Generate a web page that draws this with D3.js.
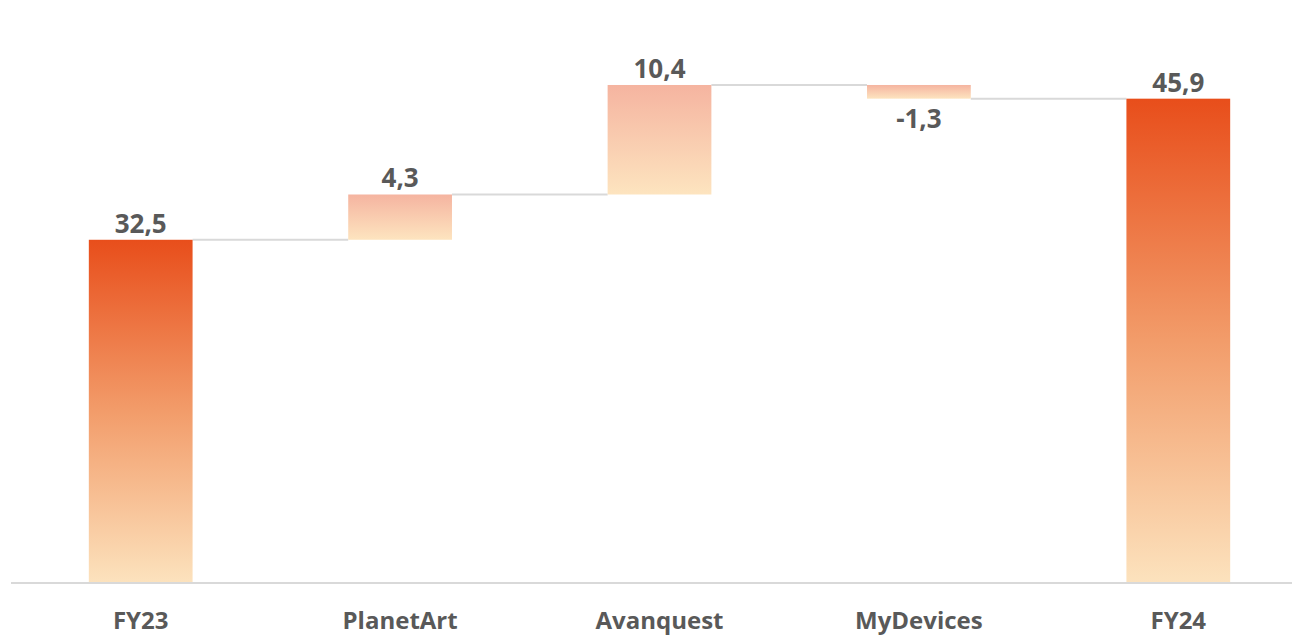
<!DOCTYPE html>
<html>
<head>
<meta charset="utf-8">
<script src="https://cdn.jsdelivr.net/npm/d3@7"></script>
<style>
  html, body { margin: 0; padding: 0; background: #ffffff; }
  svg { display: block; }
  text { font-family: "Open Sans", "Noto Sans", sans-serif; font-weight: 700; fill: #595959; }
</style>
</head>
<body>
<svg id="chart" width="1292" height="636"></svg>
<script>
const categories = ["FY23", "PlanetArt", "Avanquest", "MyDevices", "FY24"];
const values = [32.5, 4.3, 10.4, -1.3, 45.9];
const isTotal = [true, false, false, false, true];
const valueLabels = ["32,5", "4,3", "10,4", "-1,3", "45,9"];

const W = 1292, H = 636;
const svg = d3.select("#chart");

// compute waterfall segments
let running = 0;
const bars = categories.map((c, i) => {
  let start, end;
  if (isTotal[i]) { start = 0; end = values[i]; running = values[i]; }
  else { start = running; end = running + values[i]; running = end; }
  return { cat: c, start, end, value: values[i], total: isTotal[i], label: valueLabels[i] };
});

const x = d3.scaleBand().domain(categories).range([11, 1308]).paddingInner(0.6).paddingOuter(0.3);
const y = d3.scaleLinear().domain([0, 50]).range([582, 55.5]);

// gradients
const defs = svg.append("defs");
const gTot = defs.append("linearGradient").attr("id", "gTotal").attr("x1", 0).attr("y1", 0).attr("x2", 0).attr("y2", 1);
gTot.append("stop").attr("offset", "0%").attr("stop-color", "#E84E1B");
gTot.append("stop").attr("offset", "50%").attr("stop-color", "#F29C6A");
gTot.append("stop").attr("offset", "100%").attr("stop-color", "#FCE2BD");
const gDel = defs.append("linearGradient").attr("id", "gDelta").attr("x1", 0).attr("y1", 0).attr("x2", 0).attr("y2", 1);
gDel.append("stop").attr("offset", "0%").attr("stop-color", "#F5B4A0");
gDel.append("stop").attr("offset", "100%").attr("stop-color", "#FDE4BF");

// axis baseline
svg.append("line")
  .attr("x1", 11).attr("x2", W)
  .attr("y1", y(0) + 1).attr("y2", y(0) + 1)
  .attr("stroke", "#d9d9d9").attr("stroke-width", 2);

// connectors
for (let i = 0; i < bars.length - 1; i++) {
  const lvl = bars[i].end;
  svg.append("line")
    .attr("x1", x(bars[i].cat) + x.bandwidth())
    .attr("x2", x(bars[i + 1].cat))
    .attr("y1", y(lvl)).attr("y2", y(lvl))
    .attr("stroke", "#d9d9d9").attr("stroke-width", 2);
}

// bars
svg.selectAll("rect.bar").data(bars).enter().append("rect")
  .attr("class", "bar")
  .attr("x", d => x(d.cat))
  .attr("width", x.bandwidth())
  .attr("y", d => y(Math.max(d.start, d.end)))
  .attr("height", d => Math.abs(y(d.start) - y(d.end)))
  .attr("fill", d => d.total ? "url(#gTotal)" : "url(#gDelta)");

// value labels
svg.selectAll("text.val").data(bars).enter().append("text")
  .attr("class", "val")
  .attr("x", d => x(d.cat) + x.bandwidth() / 2)
  .attr("y", d => d.value >= 0 ? y(Math.max(d.start, d.end)) - 7 : y(Math.min(d.start, d.end)) + 29)
  .attr("text-anchor", "middle")
  .style("font-size", "26px")
  .text(d => d.label);

// category axis labels
const xAxis = d3.axisBottom(x).tickSize(0).tickPadding(0);
const ax = svg.append("g").attr("transform", `translate(0, 629)`).call(xAxis);
ax.select(".domain").remove();
ax.selectAll("text")
  .attr("dy", 0).attr("y", 0)
  .style("font-size", "24px")
  .style("font-family", "'Open Sans', 'Noto Sans', sans-serif")
  .style("font-weight", 700)
  .attr("fill", "#595959");
</script>
</body>
</html>
